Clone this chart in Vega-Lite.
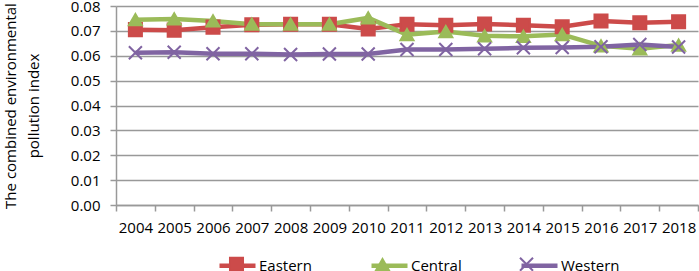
{
  "$schema": "https://vega.github.io/schema/vega-lite/v6.json",
  "width": 582,
  "height": 199,
  "autosize": {"type": "none"},
  "padding": {"left": 116, "top": 6, "right": 1, "bottom": 66},
  "config": {"view": {"stroke": null}, "font": "Open Sans"},
  "data": {
    "values": [
      {"year": "2004", "region": "Eastern", "value": 0.0705},
      {"year": "2005", "region": "Eastern", "value": 0.0703},
      {"year": "2006", "region": "Eastern", "value": 0.0715},
      {"year": "2007", "region": "Eastern", "value": 0.0725},
      {"year": "2008", "region": "Eastern", "value": 0.0727},
      {"year": "2009", "region": "Eastern", "value": 0.0727},
      {"year": "2010", "region": "Eastern", "value": 0.0708},
      {"year": "2011", "region": "Eastern", "value": 0.0727},
      {"year": "2012", "region": "Eastern", "value": 0.0723},
      {"year": "2013", "region": "Eastern", "value": 0.0728},
      {"year": "2014", "region": "Eastern", "value": 0.0723},
      {"year": "2015", "region": "Eastern", "value": 0.0717},
      {"year": "2016", "region": "Eastern", "value": 0.0740},
      {"year": "2017", "region": "Eastern", "value": 0.0733},
      {"year": "2018", "region": "Eastern", "value": 0.0737},
      {"year": "2004", "region": "Central", "value": 0.0745},
      {"year": "2005", "region": "Central", "value": 0.0748},
      {"year": "2006", "region": "Central", "value": 0.0740},
      {"year": "2007", "region": "Central", "value": 0.0727},
      {"year": "2008", "region": "Central", "value": 0.0727},
      {"year": "2009", "region": "Central", "value": 0.0727},
      {"year": "2010", "region": "Central", "value": 0.0752},
      {"year": "2011", "region": "Central", "value": 0.0685},
      {"year": "2012", "region": "Central", "value": 0.0697},
      {"year": "2013", "region": "Central", "value": 0.0680},
      {"year": "2014", "region": "Central", "value": 0.0678},
      {"year": "2015", "region": "Central", "value": 0.0685},
      {"year": "2016", "region": "Central", "value": 0.0640},
      {"year": "2017", "region": "Central", "value": 0.0628},
      {"year": "2018", "region": "Central", "value": 0.0643},
      {"year": "2004", "region": "Western", "value": 0.0612},
      {"year": "2005", "region": "Western", "value": 0.0614},
      {"year": "2006", "region": "Western", "value": 0.0608},
      {"year": "2007", "region": "Western", "value": 0.0608},
      {"year": "2008", "region": "Western", "value": 0.0605},
      {"year": "2009", "region": "Western", "value": 0.0607},
      {"year": "2010", "region": "Western", "value": 0.0607},
      {"year": "2011", "region": "Western", "value": 0.0625},
      {"year": "2012", "region": "Western", "value": 0.0625},
      {"year": "2013", "region": "Western", "value": 0.0628},
      {"year": "2014", "region": "Western", "value": 0.0632},
      {"year": "2015", "region": "Western", "value": 0.0633},
      {"year": "2016", "region": "Western", "value": 0.0636},
      {"year": "2017", "region": "Western", "value": 0.0645},
      {"year": "2018", "region": "Western", "value": 0.0635}
    ]
  },
  "encoding": {
    "x": {
      "field": "year",
      "type": "ordinal",
      "scale": {"type": "band", "paddingInner": 0, "paddingOuter": 0},
      "axis": {
        "title": null,
        "labelAngle": 0,
        "tickBand": "extent",
        "domainColor": "#999999",
        "domainWidth": 1.5,
        "tickColor": "#999999",
        "tickWidth": 1.5,
        "tickSize": 6,
        "labelPadding": 9,
        "labelFontSize": 15,
        "labelColor": "#000000",
        "grid": false
      }
    },
    "y": {
      "field": "value",
      "type": "quantitative",
      "scale": {"domain": [0, 0.08], "nice": false},
      "axis": {
        "values": [0, 0.01, 0.02, 0.03, 0.04, 0.05, 0.06, 0.07, 0.08],
        "format": ".2f",
        "title": ["The combined environmental", "pollution index"],
        "titleFontSize": 15,
        "titleFontWeight": "normal",
        "titleColor": "#000000",
        "titleLineHeight": 23,
        "titlePadding": 29,
        "labelFontSize": 15,
        "labelColor": "#000000",
        "labelPadding": 10,
        "gridColor": "#999999",
        "gridWidth": 1.5,
        "domainColor": "#999999",
        "domainWidth": 1.5,
        "tickColor": "#999999",
        "tickWidth": 1.5,
        "tickSize": 6
      }
    }
  },
  "layer": [
    {
      "mark": {"type": "line", "strokeWidth": 4.5},
      "encoding": {
        "color": {
          "field": "region",
          "type": "nominal",
          "scale": {"domain": ["Eastern", "Central", "Western"], "range": ["#CC4B4A", "#9BBB59", "#8064A2"]},
          "legend": {
            "orient": "none",
            "legendX": 101,
            "legendY": 239,
            "direction": "horizontal",
            "title": null,
            "symbolType": "stroke",
            "symbolSize": 1296,
            "symbolStrokeWidth": 4.5,
            "labelFontSize": 15,
            "labelColor": "#000000",
            "labelOffset": 1,
            "columnPadding": 50
          }
        }
      }
    },
    {
      "mark": {"type": "point", "size": 170, "strokeWidth": 2, "opacity": 1},
      "encoding": {
        "fill": {
          "field": "region",
          "type": "nominal",
          "scale": {"range": ["#9BBB59", "#CC4B4A", "transparent"]},
          "legend": {
            "orient": "none",
            "legendX": 112.5,
            "legendY": 250,
            "direction": "horizontal",
            "title": null,
            "values": ["Eastern", "Central", "Western"],
            "symbolSize": 170,
            "symbolStrokeWidth": 2,
            "labelFontSize": 15,
            "labelColor": "transparent",
            "labelOffset": 24,
            "columnPadding": 50
          }
        },
        "stroke": {
          "field": "region",
          "type": "nominal",
          "scale": {"range": ["#9BBB59", "#CC4B4A", "#8064A2"]},
          "legend": {
            "orient": "none",
            "legendX": 112.5,
            "legendY": 250,
            "direction": "horizontal",
            "title": null,
            "values": ["Eastern", "Central", "Western"],
            "symbolSize": 170,
            "symbolStrokeWidth": 2,
            "labelFontSize": 15,
            "labelColor": "transparent",
            "labelOffset": 24,
            "columnPadding": 50
          }
        },
        "shape": {
          "field": "region",
          "type": "nominal",
          "scale": {"range": ["triangle-up", "square", "M-1,-1L1,1M-1,1L1,-1"]},
          "legend": {
            "orient": "none",
            "legendX": 112.5,
            "legendY": 250,
            "direction": "horizontal",
            "title": null,
            "values": ["Eastern", "Central", "Western"],
            "symbolSize": 170,
            "symbolStrokeWidth": 2,
            "labelFontSize": 15,
            "labelColor": "transparent",
            "labelOffset": 24,
            "columnPadding": 50
          }
        }
      }
    }
  ]
}
